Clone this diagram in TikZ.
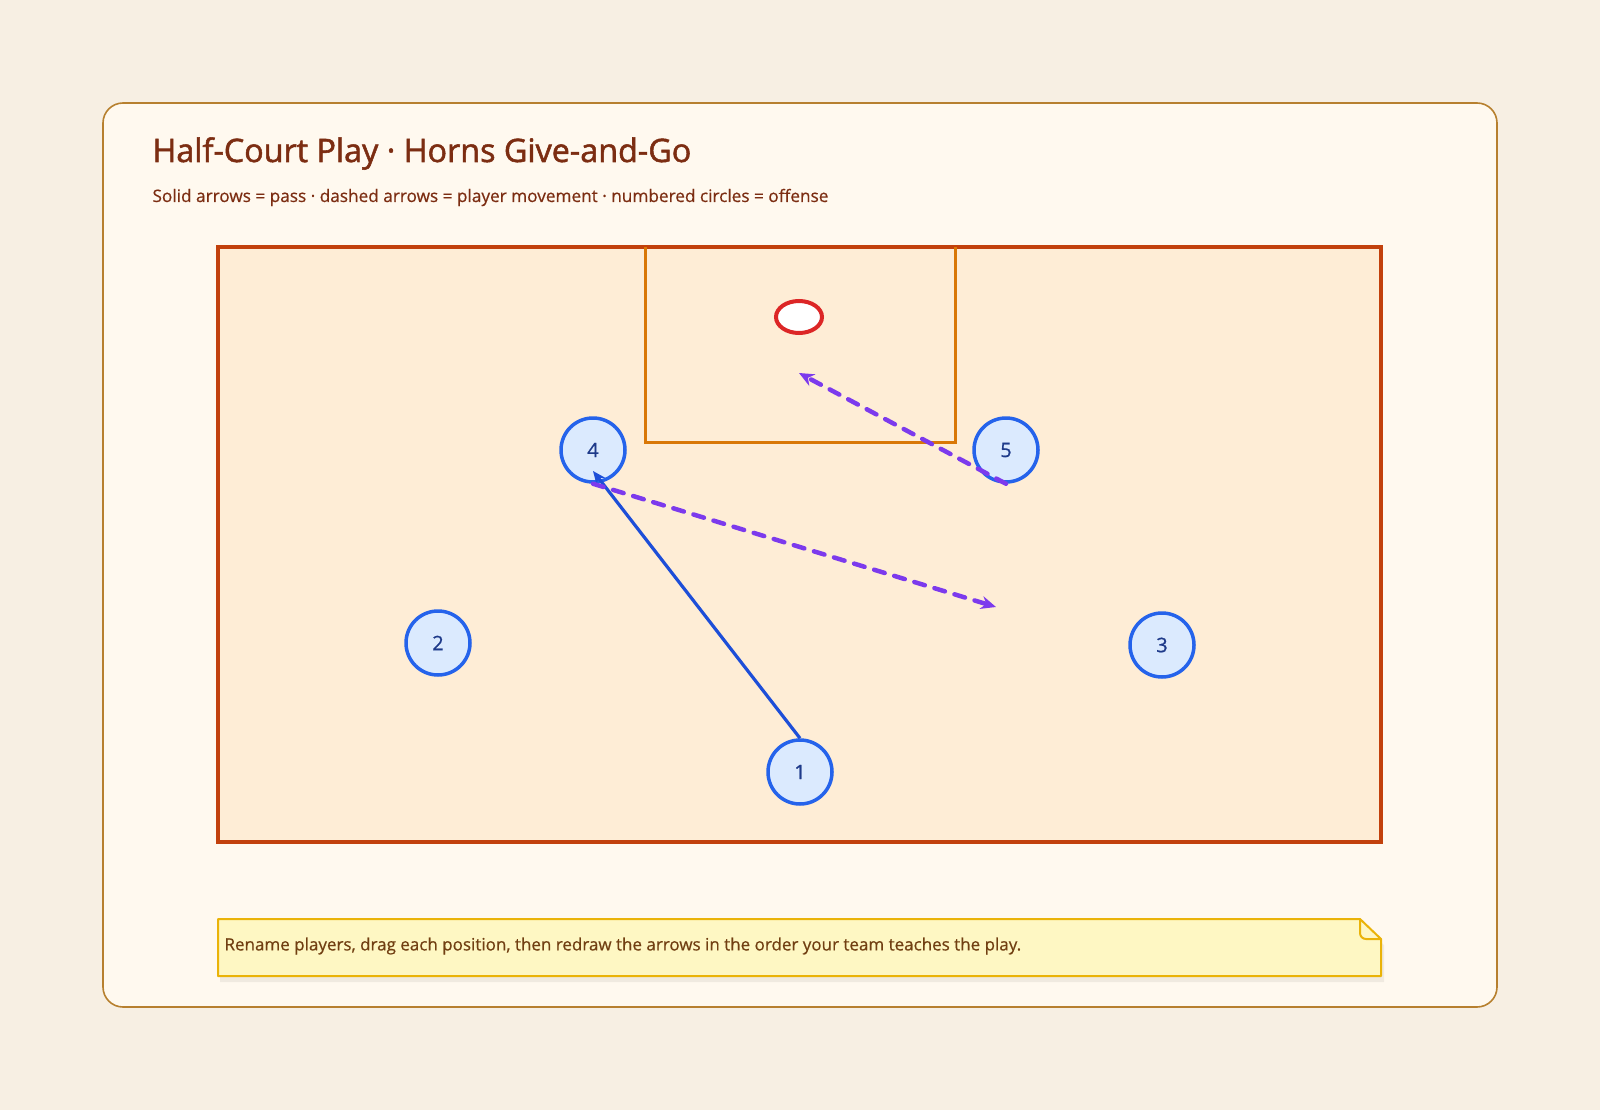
\documentclass[tikz,border=0pt]{standalone}
\usepackage{fontspec}
\setmainfont{Open Sans}
\newfontfamily\titlefont[FakeBold=1.6]{Open Sans}
\newfontfamily\labelfont[FakeBold=0.6]{Open Sans}
\usetikzlibrary{arrows.meta}
\definecolor{pagebg}{HTML}{F7EFE3}
\definecolor{cardbg}{HTML}{FFF9EF}
\definecolor{cardline}{HTML}{B7802F}
\definecolor{titlecol}{HTML}{7C2D12}
\definecolor{courtbg}{HTML}{FEEDD6}
\definecolor{courtline}{HTML}{C2410C}
\definecolor{keyline}{HTML}{D97706}
\definecolor{hoopline}{HTML}{DC2626}
\definecolor{playerbg}{HTML}{DBEAFE}
\definecolor{playerline}{HTML}{2563EB}
\definecolor{playertext}{HTML}{1E3A8A}
\definecolor{passcol}{HTML}{1D4ED8}
\definecolor{movecol}{HTML}{7C3AED}
\definecolor{notebg}{HTML}{FEF7C3}
\definecolor{noteline}{HTML}{EAB308}
\definecolor{notetext}{HTML}{713F12}
\begin{document}
\begin{tikzpicture}[x=1pt,y=-1pt,>={Stealth[length=13pt,width=11pt]},
	player/.style={circle,draw=playerline,fill=playerbg,line width=3.5pt,minimum size=64pt,inner sep=0pt,text=playertext,font=\labelfont\fontsize{20}{24}\selectfont},
	pass/.style={->,draw=passcol,line width=3.2pt},
	move/.style={-{Stealth[length=15pt,width=13pt]},draw=movecol,line width=4.5pt,line cap=round,dash pattern=on 11pt off 10pt}]
	\fill[pagebg] (0,0) rectangle (1600,1110);
	\useasboundingbox (0,0) rectangle (1600,1110);
	\draw[cardline,fill=cardbg,line width=1.6pt,rounded corners=20pt] (103,103) rectangle (1497,1007);
	\node[anchor=base west,text=titlecol,font=\titlefont\fontsize{32.3}{36}\selectfont] (title) at (149,162) {Half-Court Play · Horns Give-and-Go};
	\node[anchor=base west,text=titlecol,font=\labelfont\fontsize{17.2}{20}\selectfont] (subtitle) at (149,202) {Solid arrows = pass · dashed arrows = player movement · numbered circles = offense};
	\draw[courtline,fill=courtbg,line width=3.5pt] (218,247) rectangle (1381,842);
	\draw[keyline,line width=3pt] (645,247) -- (645,442) -- (955,442) -- (955,247);
	\draw[hoopline,fill=white,line width=4pt] (799,317) ellipse (23 and 16);
	\node[player] (p4) at (593,450) {4};
	\node[player] (p5) at (1006,450) {5};
	\node[player] (p2) at (438,643) {2};
	\node[player] (p3) at (1162,645) {3};
	\node[player] (p1) at (800,772) {1};
	\coordinate (cut4) at (996,607);
	\coordinate (cut5) at (799,373);
	\draw[pass] (p1.north) -- ([yshift=-21pt]p4.center);
	\draw[move] (p4.south) -- (cut4);
	\draw[move] (p5.south) -- (cut5);
	\fill[black,opacity=0.06] (220,925) -- (1362,925) -- (1384,945) -- (1384,982) -- (220,982) -- cycle;
	\draw[noteline,fill=notebg,line width=2pt,line join=round] (218,919) -- (1360,919) -- (1381,939) -- (1381,976) -- (218,976) -- cycle;
	\draw[noteline,line width=2pt,line join=round] (1360,919) -- (1360,933) to[out=-90,in=180] (1366,939) -- (1381,939);
	\node[anchor=west,text=notetext,font=\labelfont\fontsize{17}{20}\selectfont] (note) at (221,946) {Rename players, drag each position, then redraw the arrows in the order your team teaches the play.};
\end{tikzpicture}
\end{document}
